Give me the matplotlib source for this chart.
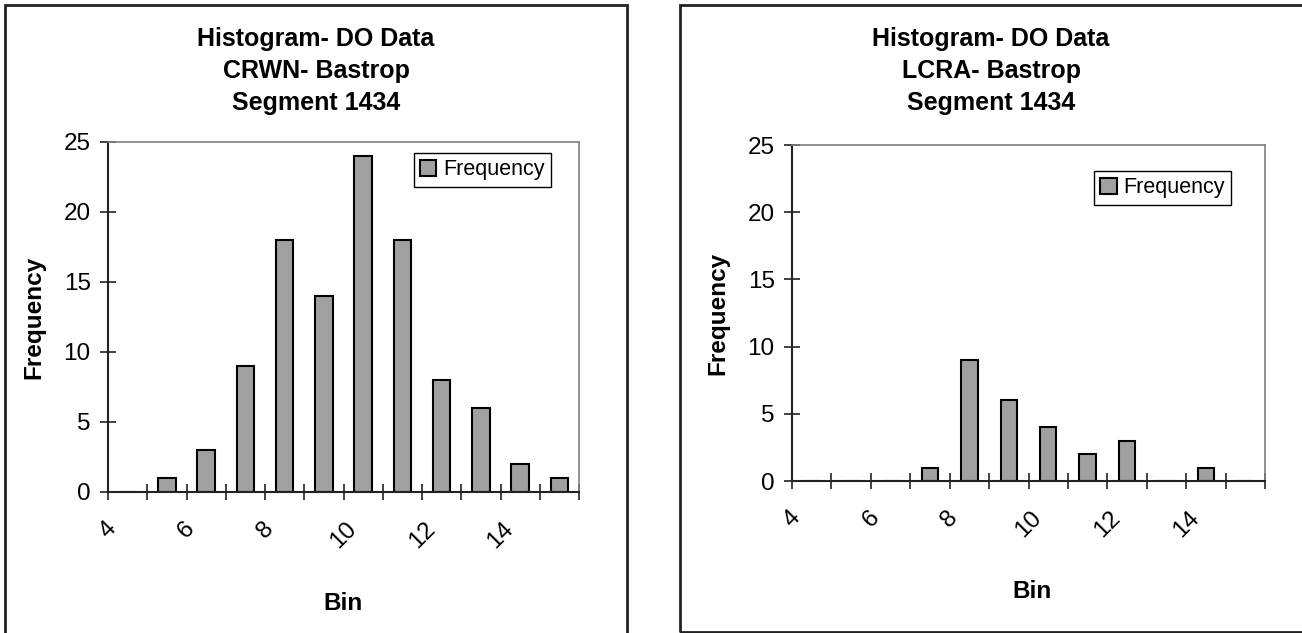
import matplotlib.pyplot as plt
from matplotlib.patches import Rectangle

plt.rcParams['font.family'] = ['Liberation Sans', 'DejaVu Sans']

# histogram bins (left edge of each bin) and counts
bin_left = [4, 5, 6, 7, 8, 9, 10, 11, 12, 13, 14, 15]
crwn_freq = [0, 1, 3, 9, 18, 14, 24, 18, 8, 6, 2, 1]
lcra_freq = [0, 0, 0, 1, 9, 6, 4, 2, 3, 0, 1, 0]
xtick_vals = [4, 5, 6, 7, 8, 9, 10, 11, 12, 13, 14, 15, 16]
xtick_labels = ['4', '', '6', '', '8', '', '10', '', '12', '', '14', '', '']
yticks = [0, 5, 10, 15, 20, 25]

W, H = 1302, 633
fig = plt.figure(figsize=(W / 100, H / 100), dpi=100)

def px_axes(x0, y_top, x1, y_bot):
    return fig.add_axes([x0 / W, 1 - y_bot / H, (x1 - x0) / W, (y_bot - y_top) / H])

def panel_box(x0, y0, x1, y1):
    fig.patches.append(Rectangle((x0 / W, 1 - y1 / H), (x1 - x0) / W, (y1 - y0) / H,
                                 transform=fig.transFigure, fill=False,
                                 edgecolor='#222222', lw=2, clip_on=False))

def draw_hist(ax, freq, width, leg_anchor):
    centers = [b + 0.5 for b in bin_left]
    ax.bar(centers, freq, width=width, color='#a0a0a0', edgecolor='black',
           linewidth=1.5, label='Frequency')
    ax.set_xlim(4, 16)
    ax.set_ylim(0, 25)
    ax.set_xticks(xtick_vals)
    ax.set_xticklabels(xtick_labels, rotation=45, ha='center', fontsize=17.5)
    ax.set_yticks(yticks)
    ax.set_yticklabels([str(v) for v in yticks], fontsize=17.5)
    ax.tick_params(axis='both', direction='inout', length=11, width=1.2, color='#222222')
    ax.tick_params(axis='x', pad=13)
    ax.tick_params(axis='y', pad=7)
    for s in ['top', 'right']:
        ax.spines[s].set_color('#808080')
        ax.spines[s].set_linewidth(1.2)
    for s in ['left', 'bottom']:
        ax.spines[s].set_color('#222222')
        ax.spines[s].set_linewidth(1.5)
    leg = ax.legend(loc='upper right', bbox_to_anchor=leg_anchor, borderaxespad=0,
                    fancybox=False, framealpha=1, edgecolor='black', fontsize=15.5,
                    handlelength=0.75, handleheight=0.75, handletextpad=0.3,
                    borderpad=0.3)
    leg.get_frame().set_linewidth(1.0)

# left chart
panel_box(5, 5, 627, 660)
ax1 = px_axes(108, 142, 579, 492)
draw_hist(ax1, crwn_freq, 0.45, (0.94, 0.969))
fig.text(316 / W, 1 - 71 / H, 'Histogram- DO Data\nCRWN- Bastrop\nSegment 1434',
         ha='center', va='center', fontsize=18, fontweight='bold', linespacing=1.4)
fig.text(34 / W, 1 - 317 / H, 'Frequency', rotation=90, ha='center', va='center',
         fontsize=17.5, fontweight='bold')
fig.text(343 / W, 1 - 603 / H, 'Bin', ha='center', va='center',
         fontsize=17.5, fontweight='bold')

# right chart
panel_box(680, 5, 1320, 632)
ax2 = px_axes(792, 145, 1265, 481)
draw_hist(ax2, lcra_freq, 0.42, (0.928, 0.923))
fig.text(991 / W, 1 - 71 / H, 'Histogram- DO Data\nLCRA- Bastrop\nSegment 1434',
         ha='center', va='center', fontsize=18, fontweight='bold', linespacing=1.4)
fig.text(718 / W, 1 - 313 / H, 'Frequency', rotation=90, ha='center', va='center',
         fontsize=17.5, fontweight='bold')
fig.text(1032 / W, 1 - 591 / H, 'Bin', ha='center', va='center',
         fontsize=17.5, fontweight='bold')

fig.savefig('out.png', dpi=100)
